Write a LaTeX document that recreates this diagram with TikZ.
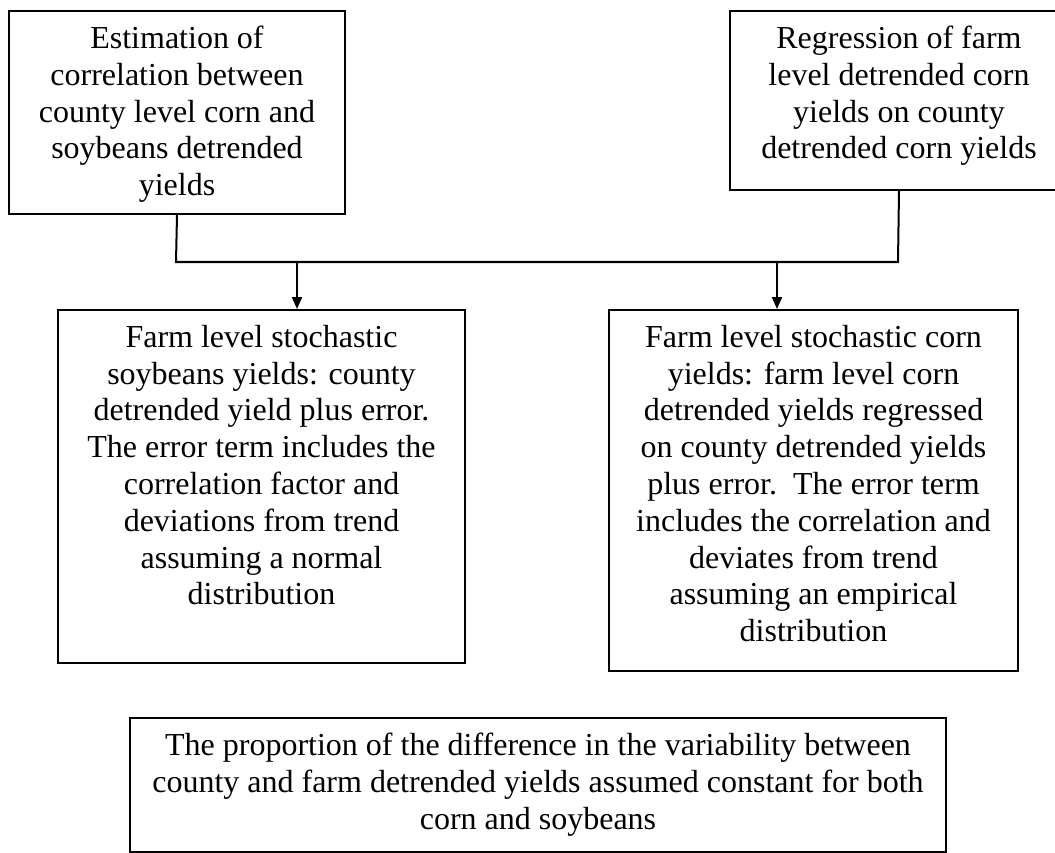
\documentclass[tikz,border=0pt]{standalone}
\usepackage{fontspec}
\setmainfont{Liberation Serif}
\usetikzlibrary{arrows.meta}

\newcommand{\boxtext}[3]{\parbox[c][#1][t]{#2}{\centering #3}}

\tikzset{
  flowbox/.style={draw, line width=2pt, inner xsep=0pt, inner ysep=15pt,
    anchor=north west, font=\fontsize{32}{36.8}\selectfont},
  link/.style={line width=2pt},
  arrowlink/.style={line width=2pt, -{Triangle[length=12pt,width=10pt]}}
}

\begin{document}
\begin{tikzpicture}[x=1pt,y=-1pt]
    \useasboundingbox (0,0) rectangle (1055,853);

    % Top boxes
    \node[flowbox] (corr) at (8,10) {\boxtext{173pt}{336pt}{Estimation of\\ correlation between\\ county level corn and\\ soybeans detrended\\ yields}};
    \node[flowbox] (regr) at (729,10) {\boxtext{149pt}{338pt}{Regression of farm\\ level detrended corn\\ yields on county\\ detrended corn yields}};

    % Middle boxes
    \node[flowbox] (soy) at (57,309) {\boxtext{323pt}{407pt}{Farm level stochastic\\ soybeans yields: county\\ detrended yield plus error.\\ The error term includes the\\ correlation factor and\\ deviations from trend\\ assuming a normal\\ distribution}};
    \node[flowbox] (corn) at (608,309) {\boxtext{331pt}{409pt}{Farm level stochastic corn\\ yields: farm level corn\\ detrended yields regressed\\ on county detrended yields\\ plus error.\ \ The error term\\ includes the correlation and\\ deviates from trend\\ assuming an empirical\\ distribution}};

    % Bottom box
    \node[flowbox] (prop) at (129,717) {\boxtext{104pt}{816pt}{The proportion of the difference in the variability between\\ county and farm detrended yields assumed constant for both\\ corn and soybeans}};

    % Joining line and arrows
    \coordinate (busL) at (176,262);
    \coordinate (busR) at (898,262);
    \draw[link] (corr.south) -- (busL) -- (busR) -- (regr.south);
    \coordinate (dropL) at (297,262);
    \coordinate (dropR) at (777,262);
    \draw[arrowlink] (dropL) -- (dropL |- soy.north);
    \draw[arrowlink] (dropR) -- (dropR |- corn.north);
\end{tikzpicture}
\end{document}
